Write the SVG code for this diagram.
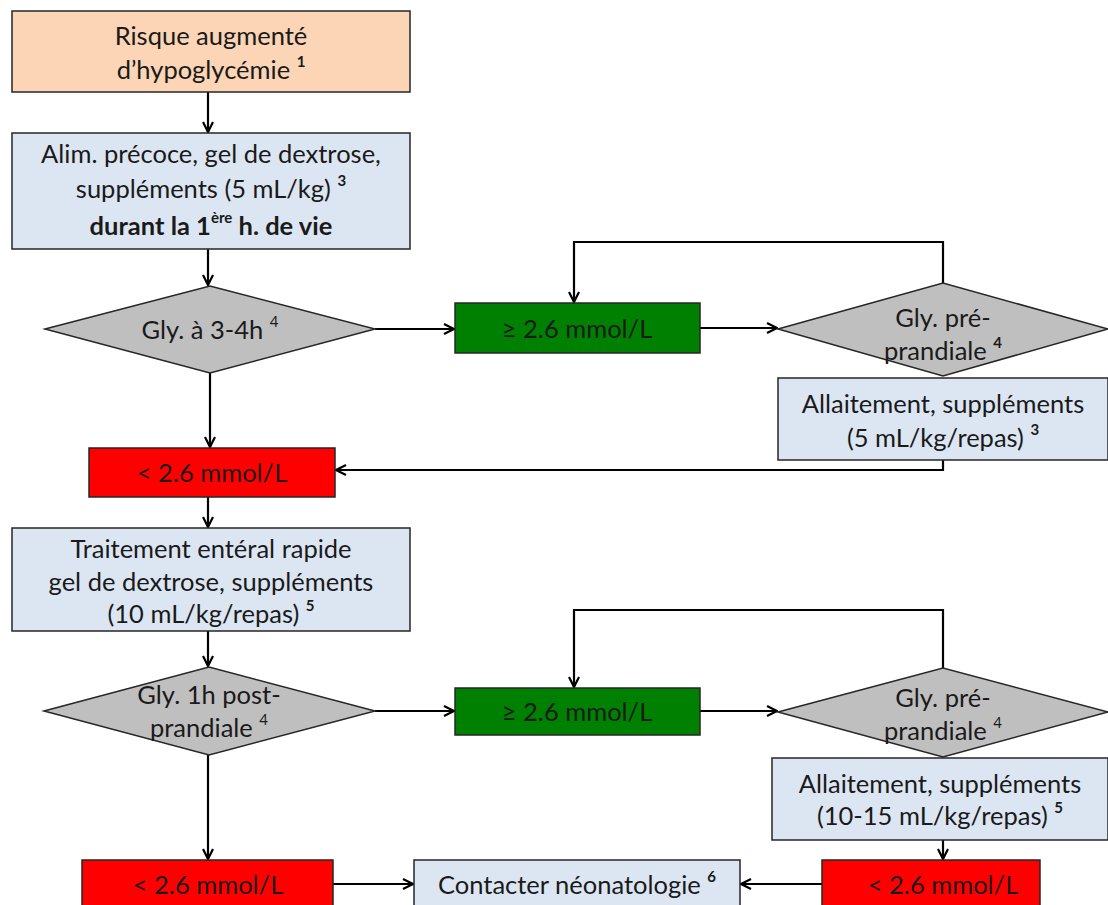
<svg xmlns="http://www.w3.org/2000/svg" width="1108" height="905" viewBox="0 0 1108 905">
<defs>
<style>
.box{stroke:#262626;stroke-width:1.5}
.peach{fill:#FBD5B5}
.blue{fill:#DCE6F2}
.gray{fill:#BFBFBF}
.green{fill:#008000}
.red{fill:#FF0000}
text{font-family:Lato,"Liberation Sans",sans-serif;font-size:25.5px;fill:#1a1a1a;text-anchor:middle;dominant-baseline:central}
.sup{font-size:15px;font-weight:bold}
.b{font-weight:bold}
.c{fill:none;stroke:#000;stroke-width:2.2}
</style>
<marker id="ah" viewBox="0 0 12 12" refX="11" refY="6" markerWidth="12" markerHeight="12" markerUnits="userSpaceOnUse" orient="auto">
<path d="M1,1 L11,6 L1,11" fill="none" stroke="#000" stroke-width="2.2"/>
</marker>
</defs>

<g id="connectors">
<path class="c" d="M208,92 V132" marker-end="url(#ah)"/>
<path class="c" d="M208,249 V285" marker-end="url(#ah)"/>
<path class="c" d="M210,373 V447" marker-end="url(#ah)"/>
<path class="c" d="M375,329 H454" marker-end="url(#ah)"/>
<path class="c" d="M700,328 H777" marker-end="url(#ah)"/>
<path class="c" d="M943,283 V242 H574 V302" marker-end="url(#ah)"/>
<path class="c" d="M943,460 V470 H336" marker-end="url(#ah)"/>
<path class="c" d="M208,497 V527" marker-end="url(#ah)"/>
<path class="c" d="M208,631 V666" marker-end="url(#ah)"/>
<path class="c" d="M375,711 H454" marker-end="url(#ah)"/>
<path class="c" d="M700,711 H777" marker-end="url(#ah)"/>
<path class="c" d="M943,668 V610 H574 V687" marker-end="url(#ah)"/>
<path class="c" d="M208,755 V859" marker-end="url(#ah)"/>
<path class="c" d="M943,840 V859" marker-end="url(#ah)"/>
<path class="c" d="M333,884 H413" marker-end="url(#ah)"/>
<path class="c" d="M822,884 H741" marker-end="url(#ah)"/>
</g>

<g id="n1">
<rect class="box peach" x="12" y="11" width="398" height="81"/>
<text x="211" y="35">Risque augmenté</text>
<text x="211" y="69">d’hypoglycémie <tspan class="sup" dy="-8">1</tspan></text>
</g>

<g id="n2">
<rect class="box blue" x="12" y="133" width="398" height="116"/>
<text x="211" y="153">Alim. précoce, gel de dextrose,</text>
<text x="211" y="188">suppléments (5 mL/kg) <tspan class="sup" dy="-8">3</tspan></text>
<text x="211" y="225" class="b">durant la 1<tspan class="sup" dy="-8">ère</tspan><tspan dy="8"> h. de vie</tspan></text>
</g>

<g id="n3">
<polygon class="box gray" points="45,329 210,286 375,329 210,373"/>
<text x="210" y="329">Gly. à 3-4h <tspan class="sup" dy="-8" style="font-weight:normal">4</tspan></text>
</g>

<g id="n4">
<rect class="box green" x="455" y="303" width="245" height="50"/>
<text x="577" y="328">≥ 2.6 mmol/L</text>
</g>

<g id="n5">
<polygon class="box gray" points="778,329 943,283 1108,329 943,376"/>
<text x="943" y="317">Gly. pré-</text>
<text x="943" y="350">prandiale <tspan class="sup" dy="-8">4</tspan></text>
</g>

<g id="n6">
<rect class="box blue" x="778" y="378" width="330" height="82"/>
<text x="943" y="403">Allaitement, suppléments</text>
<text x="943" y="437">(5 mL/kg/repas) <tspan class="sup" dy="-8">3</tspan></text>
</g>

<g id="n7">
<rect class="box red" x="89" y="448" width="246" height="49"/>
<text x="212" y="472">&lt; 2.6 mmol/L</text>
</g>

<g id="n8">
<rect class="box blue" x="12" y="528" width="398" height="103"/>
<text x="211" y="548">Traitement entéral rapide</text>
<text x="211" y="581">gel de dextrose, suppléments</text>
<text x="211" y="613">(10 mL/kg/repas) <tspan class="sup" dy="-8">5</tspan></text>
</g>

<g id="n9">
<polygon class="box gray" points="44,711 209,667 375,711 209,755"/>
<text x="209" y="694">Gly. 1h post-</text>
<text x="209" y="727">prandiale <tspan class="sup" dy="-8" style="font-weight:normal">4</tspan></text>
</g>

<g id="n10">
<rect class="box green" x="455" y="688" width="245" height="47"/>
<text x="577" y="711">≥ 2.6 mmol/L</text>
</g>

<g id="n11">
<polygon class="box gray" points="778,712 943,668 1108,712 943,757"/>
<text x="943" y="697">Gly. pré-</text>
<text x="943" y="730">prandiale <tspan class="sup" dy="-8" style="font-weight:normal">4</tspan></text>
</g>

<g id="n12">
<rect class="box blue" x="772" y="758" width="336" height="82"/>
<text x="940" y="783">Allaitement, suppléments</text>
<text x="940" y="815">(10-15 mL/kg/repas) <tspan class="sup" dy="-8">5</tspan></text>
</g>

<g id="n13">
<rect class="box red" x="82" y="860" width="251" height="50"/>
<text x="208" y="884">&lt; 2.6 mmol/L</text>
</g>

<g id="n14">
<rect class="box blue" x="414" y="860" width="326" height="50"/>
<text x="577" y="884">Contacter néonatologie <tspan class="sup" dy="-8">6</tspan></text>
</g>

<g id="n15">
<rect class="box red" x="822" y="860" width="218" height="50"/>
<text x="943" y="884">&lt; 2.6 mmol/L</text>
</g>
</svg>
